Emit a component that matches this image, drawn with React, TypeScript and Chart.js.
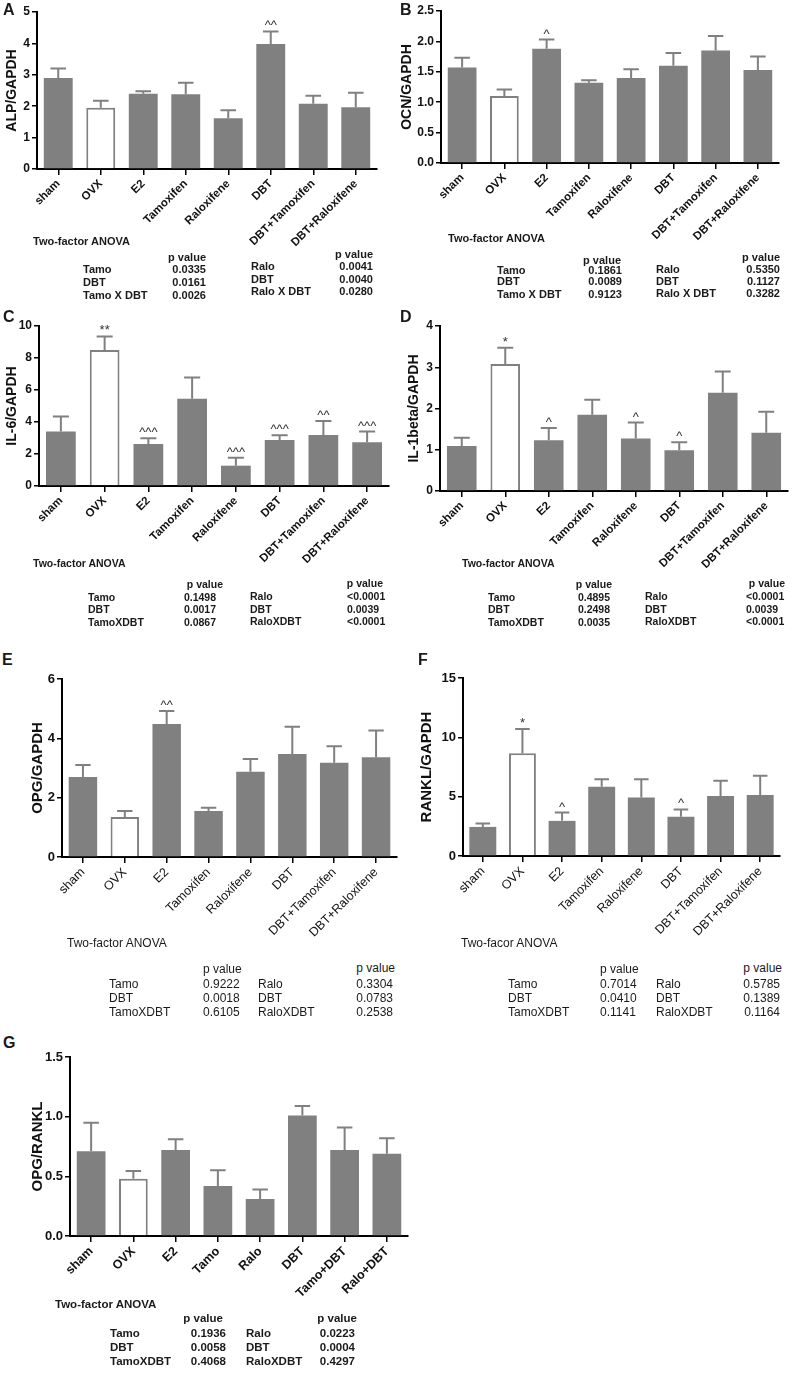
import React, { useEffect, useRef } from "react";
import { Chart, registerables } from "chart.js";
Chart.register(...registerables);

const FONT = "'Liberation Sans', Arial, Helvetica, sans-serif";
const NARROW = "'Liberation Sans Narrow', 'Liberation Sans', Arial, sans-serif";
const GREY = "#808080";
const OPEN_GROUP = "OVX";

// ---------- data ----------
const groupsFull = ["sham", "OVX", "E2", "Tamoxifen", "Raloxifene", "DBT", "DBT+Tamoxifen", "DBT+Raloxifene"];
const groupsShort = ["sham", "OVX", "E2", "Tamo", "Ralo", "DBT", "Tamo+DBT", "Ralo+DBT"];

const alpMean = [2.9, 1.95, 2.4, 2.38, 1.62, 3.98, 2.08, 1.97];
const alpSem = [0.3, 0.22, 0.08, 0.37, 0.25, 0.4, 0.25, 0.46];
const alpMarks = ["", "", "", "", "", "^^", "", ""];

const ocnMean = [1.57, 1.1, 1.88, 1.32, 1.4, 1.6, 1.85, 1.53];
const ocnSem = [0.16, 0.11, 0.15, 0.04, 0.14, 0.21, 0.24, 0.22];
const ocnMarks = ["", "", "^", "", "", "", "", ""];

const il6Mean = [3.4, 8.5, 2.63, 5.45, 1.27, 2.88, 3.19, 2.73];
const il6Sem = [0.94, 0.85, 0.36, 1.33, 0.5, 0.29, 0.88, 0.67];
const il6Marks = ["", "**", "^^^", "", "^^^", "^^^", "^^", "^^^"];

const il1Mean = [1.09, 3.08, 1.23, 1.85, 1.27, 0.99, 2.38, 1.41];
const il1Sem = [0.2, 0.39, 0.3, 0.36, 0.39, 0.19, 0.52, 0.51];
const il1Marks = ["", "*", "^", "", "^", "^", "", ""];

const opgMean = [2.7, 1.35, 4.48, 1.55, 2.87, 3.47, 3.18, 3.36];
const opgSem = [0.4, 0.2, 0.44, 0.11, 0.43, 0.92, 0.55, 0.9];
const opgMarks = ["", "", "^^", "", "", "", "", ""];

const ranklMean = [2.45, 8.66, 2.96, 5.84, 4.93, 3.3, 5.05, 5.13];
const ranklSem = [0.28, 2.05, 0.7, 0.62, 1.53, 0.62, 1.29, 1.64];
const ranklMarks = ["", "*", "^", "", "", "^", "", ""];

const ratioMean = [0.71, 0.48, 0.72, 0.42, 0.31, 1.01, 0.72, 0.69];
const ratioSem = [0.24, 0.065, 0.09, 0.13, 0.08, 0.08, 0.19, 0.13];
const ratioMarks = ["", "", "", "", "", "", "", ""];

// ANOVA tables
const anovaA_L = [["Tamo", "0.0335"], ["DBT", "0.0161"], ["Tamo X DBT", "0.0026"]];
const anovaA_R = [["Ralo", "0.0041"], ["DBT", "0.0040"], ["Ralo X DBT", "0.0280"]];
const anovaB_L = [["Tamo", "0.1861"], ["DBT", "0.0089"], ["Tamo X DBT", "0.9123"]];
const anovaB_R = [["Ralo", "0.5350"], ["DBT", "0.1127"], ["Ralo X DBT", "0.3282"]];
const anovaC_L = [["Tamo", "0.1498"], ["DBT", "0.0017"], ["TamoXDBT", "0.0867"]];
const anovaC_R = [["Ralo", "<0.0001"], ["DBT", "0.0039"], ["RaloXDBT", "<0.0001"]];
const anovaD_L = [["Tamo", "0.4895"], ["DBT", "0.2498"], ["TamoXDBT", "0.0035"]];
const anovaD_R = [["Ralo", "<0.0001"], ["DBT", "0.0039"], ["RaloXDBT", "<0.0001"]];
const anovaE_L = [["Tamo", "0.9222"], ["DBT", "0.0018"], ["TamoXDBT", "0.6105"]];
const anovaE_R = [["Ralo", "0.3304"], ["DBT", "0.0783"], ["RaloXDBT", "0.2538"]];
const anovaF_L = [["Tamo", "0.7014"], ["DBT", "0.0410"], ["TamoXDBT", "0.1141"]];
const anovaF_R = [["Ralo", "0.5785"], ["DBT", "0.1389"], ["RaloXDBT", "0.1164"]];
const anovaG_L = [["Tamo", "0.1936"], ["DBT", "0.0058"], ["TamoXDBT", "0.4068"]];
const anovaG_R = [["Ralo", "0.0223"], ["DBT", "0.0004"], ["RaloXDBT", "0.4297"]];

// ---------- error bar plugin ----------
const errPlugin: any = {
  id: "errbars",
  afterDatasetsDraw(chart: any, _args: any, opts: any) {
    const { ctx } = chart;
    const y = chart.scales.y;
    const meta = chart.getDatasetMeta(0);
    const ds = chart.data.datasets[0];
    ctx.save();
    meta.data.forEach((el: any, i: number) => {
      const m = ds.data[i];
      const s = opts.sem[i];
      const yt = y.getPixelForValue(m + s);
      const yb = el.y;
      const half = el.width * 0.27;
      ctx.strokeStyle = GREY;
      ctx.lineWidth = 2;
      ctx.lineCap = "butt";
      ctx.beginPath();
      ctx.moveTo(el.x, yb);
      ctx.lineTo(el.x, yt);
      ctx.moveTo(el.x - half, yt);
      ctx.lineTo(el.x + half, yt);
      ctx.stroke();
      const mk = opts.marks[i];
      if (mk) {
        ctx.fillStyle = "#333";
        ctx.font = `13px ${FONT}`;
        ctx.textAlign = "center";
        ctx.textBaseline = "alphabetic";
        ctx.fillText(mk, el.x, yt - 2);
      }
    });
    ctx.restore();
  },
};

type Panel = {
  labels: string[];
  mean: number[];
  sem: number[];
  marks: string[];
  yMax: number;
  yStep: number;
  dec: number;
  title: string;
  axisX: number;
  x1: number;
  yTop: number;
  y0: number;
  titleCx: number;
  titleSize: number;
  tickSize: number;
  xFont: { size: number; weight: string; family: string };
};

function BarPanel({ p }: { p: Panel }) {
  const ref = useRef<HTMLCanvasElement | null>(null);
  const titleLH = p.titleSize * 1.2;
  const left = Math.round(p.titleCx - titleLH / 2);
  const padTop = 10;
  const top = p.yTop - padTop;
  const xH = 95;
  const W = p.x1 + 4 - left;
  const H = p.y0 - top + xH;
  const yW = p.axisX - left;
  useEffect(() => {
    if (!ref.current) return;
    const chart = new Chart(ref.current, {
      type: "bar",
      data: {
        labels: p.labels,
        datasets: [
          {
            data: p.mean,
            backgroundColor: p.labels.map((l) => (l === OPEN_GROUP ? "#ffffff" : GREY)),
            borderColor: GREY,
            borderWidth: p.labels.map((l) => (l === OPEN_GROUP ? 2 : 0)),
            barPercentage: 0.68,
            categoryPercentage: 1,
          } as any,
        ],
      },
      options: {
        responsive: false,
        animation: false,
        devicePixelRatio: 1,
        layout: { padding: { top: padTop, right: 4, left: 0, bottom: 0 } },
        plugins: {
          legend: { display: false },
          tooltip: { enabled: false },
          errbars: { sem: p.sem, marks: p.marks },
        } as any,
        scales: {
          x: {
            type: "category",
            offset: true,
            ticks: {
              autoSkip: false,
              minRotation: 45,
              maxRotation: 45,
              padding: 2,
              color: "#111",
              font: { family: p.xFont.family, size: p.xFont.size, weight: p.xFont.weight as any },
            },
            grid: { offset: false, drawOnChartArea: false, tickLength: 6, color: "#000", lineWidth: 1.5 },
            border: { color: "#000", width: 2 },
            afterFit: (s: any) => {
              s.height = xH;
              s.paddingLeft = 0;
              s.paddingRight = 0;
            },
          },
          y: {
            min: 0,
            max: p.yMax,
            ticks: {
              stepSize: p.yStep,
              padding: 2,
              color: "#111",
              font: { family: FONT, size: p.tickSize, weight: "bold" },
              callback: (v: any) => Number(v).toFixed(p.dec),
            },
            grid: { drawOnChartArea: false, tickLength: 5, color: "#000", lineWidth: 1.5 },
            border: { color: "#000", width: 2 },
            title: {
              display: true,
              text: p.title,
              color: "#111",
              padding: 0,
              font: { family: FONT, size: p.titleSize, weight: "bold", lineHeight: 1.2 },
            },
            afterFit: (s: any) => {
              s.width = yW;
              s.paddingTop = 0;
              s.paddingBottom = 0;
            },
          },
        },
      },
      plugins: [errPlugin],
    });
    return () => chart.destroy();
  }, []);
  return (
    <canvas
      ref={ref}
      width={W}
      height={H}
      style={{ position: "absolute", left, top, width: W, height: H }}
    />
  );
}

type Txt = { x: number; y: number; t: string; align?: "left" | "right"; size: number; weight: string; family: string };

function T({ x, y, t, align = "left", size, weight, family }: Txt) {
  return (
    <div
      style={{
        position: "absolute",
        left: x,
        top: y,
        transform: `translate(${align === "right" ? "-100%" : "0"}, -50%)`,
        whiteSpace: "nowrap",
        fontSize: size,
        fontWeight: weight as any,
        fontFamily: family,
        lineHeight: 1,
        color: "#1a1a1a",
      }}
    >
      {t}
    </div>
  );
}

type Group = { hdrX: number; hdrY: number; hdrAlign: "left" | "right"; labelX: number; valX: number; valAlign: "left" | "right"; ys: number[]; rows: string[][] };
type Table = { title: string; tx: number; ty: number; size: number; weight: string; family: string; L: Group; R: Group };

function AnovaTable({ tb }: { tb: Table }) {
  const f = { size: tb.size, weight: tb.weight, family: tb.family };
  const items: any[] = [<T key="t" x={tb.tx} y={tb.ty} t={tb.title} {...f} />];
  [tb.L, tb.R].forEach((g, gi) => {
    items.push(<T key={`h${gi}`} x={g.hdrX} y={g.hdrY} t="p value" align={g.hdrAlign} {...f} />);
    g.rows.forEach((r, ri) => {
      items.push(<T key={`l${gi}${ri}`} x={g.labelX} y={g.ys[ri]} t={r[0]} {...f} />);
      items.push(<T key={`v${gi}${ri}`} x={g.valX} y={g.ys[ri]} t={r[1]} align={g.valAlign} {...f} />);
    });
  });
  return <>{items}</>;
}

const boldX = { size: 11.5, weight: "bold", family: FONT };
const normX = { size: 12.5, weight: "normal", family: NARROW };

const panels: Panel[] = [
  { labels: groupsFull, mean: alpMean, sem: alpSem, marks: alpMarks, yMax: 5, yStep: 1, dec: 0, title: "ALP/GAPDH",
    axisX: 37, x1: 377, yTop: 12, y0: 169, titleCx: 12, titleSize: 14, tickSize: 12, xFont: boldX },
  { labels: groupsFull, mean: ocnMean, sem: ocnSem, marks: ocnMarks, yMax: 2.5, yStep: 0.5, dec: 1, title: "OCN/GAPDH",
    axisX: 441, x1: 779, yTop: 11, y0: 163, titleCx: 407, titleSize: 14, tickSize: 12, xFont: boldX },
  { labels: groupsFull, mean: il6Mean, sem: il6Sem, marks: il6Marks, yMax: 10, yStep: 2, dec: 0, title: "IL-6/GAPDH",
    axisX: 39, x1: 389, yTop: 326, y0: 486, titleCx: 12, titleSize: 14, tickSize: 12, xFont: boldX },
  { labels: groupsFull, mean: il1Mean, sem: il1Sem, marks: il1Marks, yMax: 4, yStep: 1, dec: 0, title: "IL-1beta/GAPDH",
    axisX: 440, x1: 788, yTop: 326, y0: 491, titleCx: 414, titleSize: 14, tickSize: 12, xFont: boldX },
  { labels: groupsFull, mean: opgMean, sem: opgSem, marks: opgMarks, yMax: 6, yStep: 2, dec: 0, title: "OPG/GAPDH",
    axisX: 62, x1: 397, yTop: 679, y0: 857, titleCx: 38, titleSize: 15, tickSize: 13, xFont: normX },
  { labels: groupsFull, mean: ranklMean, sem: ranklSem, marks: ranklMarks, yMax: 15, yStep: 5, dec: 0, title: "RANKL/GAPDH",
    axisX: 463, x1: 780, yTop: 678, y0: 856, titleCx: 427, titleSize: 15, tickSize: 13, xFont: normX },
  { labels: groupsShort, mean: ratioMean, sem: ratioSem, marks: ratioMarks, yMax: 1.5, yStep: 0.5, dec: 1, title: "OPG/RANKL",
    axisX: 70, x1: 408, yTop: 1057, y0: 1236, titleCx: 38, titleSize: 15, tickSize: 13, xFont: { size: 12.5, weight: "bold", family: FONT } },
];

const tables: Table[] = [
  { title: "Two-factor ANOVA", tx: 33, ty: 241, size: 11, weight: "bold", family: FONT,
    L: { hdrX: 206, hdrY: 257, hdrAlign: "right", labelX: 83, valX: 206, valAlign: "right", ys: [269, 282, 295], rows: anovaA_L },
    R: { hdrX: 373, hdrY: 254, hdrAlign: "right", labelX: 251, valX: 373, valAlign: "right", ys: [266, 279, 291], rows: anovaA_R } },
  { title: "Two-factor ANOVA", tx: 448, ty: 238, size: 11, weight: "bold", family: FONT,
    L: { hdrX: 621, hdrY: 260, hdrAlign: "right", labelX: 497, valX: 622, valAlign: "right", ys: [270, 281, 294], rows: anovaB_L },
    R: { hdrX: 780, hdrY: 257, hdrAlign: "right", labelX: 656, valX: 780, valAlign: "right", ys: [269, 281, 293], rows: anovaB_R } },
  { title: "Two-factor ANOVA", tx: 33, ty: 563, size: 10.5, weight: "bold", family: FONT,
    L: { hdrX: 223, hdrY: 584, hdrAlign: "right", labelX: 88, valX: 216, valAlign: "right", ys: [597, 609, 622], rows: anovaC_L },
    R: { hdrX: 383, hdrY: 583, hdrAlign: "right", labelX: 250, valX: 347, valAlign: "left", ys: [596, 609, 621], rows: anovaC_R } },
  { title: "Two-factor ANOVA", tx: 462, ty: 563, size: 10.5, weight: "bold", family: FONT,
    L: { hdrX: 612, hdrY: 584, hdrAlign: "right", labelX: 488, valX: 610, valAlign: "right", ys: [597, 609, 622], rows: anovaD_L },
    R: { hdrX: 785, hdrY: 583, hdrAlign: "right", labelX: 645, valX: 746, valAlign: "left", ys: [596, 609, 621], rows: anovaD_R } },
  { title: "Two-factor ANOVA", tx: 67, ty: 943, size: 12, weight: "normal", family: NARROW,
    L: { hdrX: 203, hdrY: 969, hdrAlign: "left", labelX: 109, valX: 203, valAlign: "left", ys: [984, 998, 1012], rows: anovaE_L },
    R: { hdrX: 395, hdrY: 968, hdrAlign: "right", labelX: 258, valX: 393, valAlign: "right", ys: [984, 998, 1012], rows: anovaE_R } },
  { title: "Two-facor ANOVA", tx: 461, ty: 943, size: 12, weight: "normal", family: NARROW,
    L: { hdrX: 600, hdrY: 969, hdrAlign: "left", labelX: 508, valX: 600, valAlign: "left", ys: [984, 998, 1012], rows: anovaF_L },
    R: { hdrX: 782, hdrY: 968, hdrAlign: "right", labelX: 656, valX: 780, valAlign: "right", ys: [984, 998, 1012], rows: anovaF_R } },
  { title: "Two-factor ANOVA", tx: 55, ty: 1305, size: 11.5, weight: "bold", family: FONT,
    L: { hdrX: 223, hdrY: 1319, hdrAlign: "right", labelX: 110, valX: 226, valAlign: "right", ys: [1334, 1348, 1362], rows: anovaG_L },
    R: { hdrX: 357, hdrY: 1319, hdrAlign: "right", labelX: 246, valX: 355, valAlign: "right", ys: [1334, 1348, 1362], rows: anovaG_R } },
];

const letters = [
  { t: "A", x: 3, y: 10 },
  { t: "B", x: 400, y: 10 },
  { t: "C", x: 3, y: 317 },
  { t: "D", x: 400, y: 317 },
  { t: "E", x: 2, y: 660 },
  { t: "F", x: 418, y: 660 },
  { t: "G", x: 3, y: 1043 },
];

export default function App() {
  return (
    <div style={{ position: "absolute", left: 0, top: 0, width: 800, height: 1384, background: "#fff", overflow: "hidden" }}>
      {panels.map((p, i) => (
        <BarPanel key={i} p={p} />
      ))}
      {tables.map((tb, i) => (
        <AnovaTable key={i} tb={tb} />
      ))}
      {letters.map((l) => (
        <T key={l.t} x={l.x} y={l.y} t={l.t} size={16} weight="bold" family={FONT} />
      ))}
    </div>
  );
}
